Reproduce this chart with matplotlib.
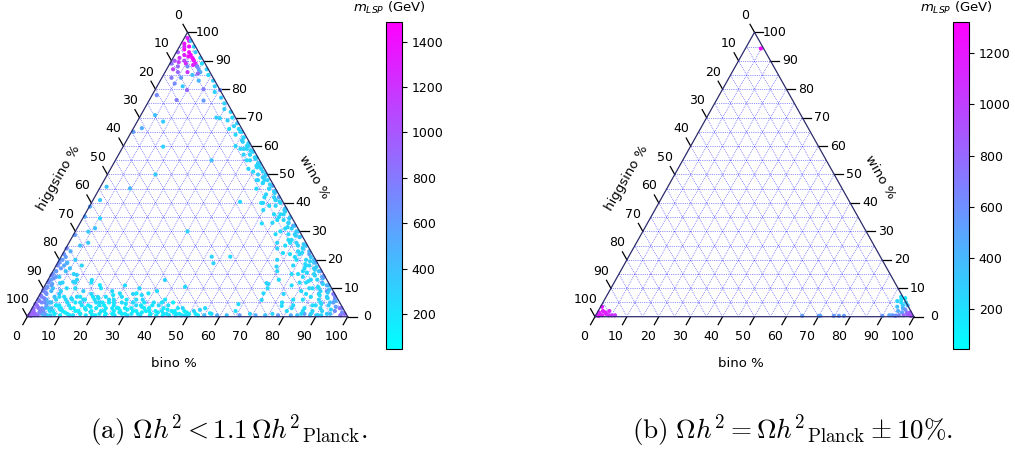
import numpy as np
import matplotlib.pyplot as plt
from matplotlib.colors import Normalize

# ---- panel (a): Omega h^2 < 1.1 Omega h^2 Planck ----
# top corner cluster (wino-like)
top_bino = [1, 2, 1, 3, 2, 4, 5, 3, 6, 2, 7, 4, 1, 8, 5, 3, 9, 6, 2, 10, 7, 4, 11,
            0.5, 0.5, 3, 6, 9, 12, 5, 8, 1.5, 4.5, 7.5, 2.5, 6.5, 10.5]
top_wino = [98, 97, 96, 95, 94, 93, 92, 92, 91, 91, 90, 90, 90, 89, 89, 88, 88, 88, 87, 87,
            86, 86, 86, 93, 89, 84, 84, 85, 83, 82, 81, 95, 91.5, 88.5, 89.5, 90.5, 85.5]
top_mass = [1300, 1350, 1400, 1420, 1450, 1380, 1440, 1300, 1400, 1200, 1350, 1100, 1000,
            1300, 1250, 900, 1000, 700, 1100, 600, 1200, 900, 500, 950, 850, 800, 600, 400,
            450, 700, 350, 1250, 1400, 1300, 1150, 1420, 900]

# right edge band (little higgsino): wino and higgsino
right_wino = [97, 95, 93, 91, 89, 87, 85, 83, 81, 79, 77, 88, 80, 76, 70,
              75, 73, 72, 70, 69, 68, 67, 66, 65, 64, 63, 62, 61, 60, 59, 58, 57, 56, 55, 54,
              53, 52, 51, 50, 49, 48, 47, 46, 45, 44, 43, 42, 41, 40, 39, 38,
              66, 60, 55, 52, 48, 45, 42, 40, 57, 50,
              37, 36, 35, 34, 33, 32, 31, 30, 30, 29, 28, 27, 26, 25, 25, 24, 23, 22, 21, 20,
              20, 36, 33, 29, 26, 22, 24,
              19, 18, 18, 17, 16, 16, 15, 15, 14, 14, 13, 12, 12, 11, 11, 10, 10, 9, 9, 8, 8,
              7, 7, 6, 6, 5, 5, 4, 4, 3, 3, 3, 2, 2, 1, 1, 1, 0.5, 0.5, 13, 8, 5, 16, 10, 20,
              48, 32.8, 37.5, 59, 2, 1, 4, 0.5, 6, 3]
right_higg = [0.5, 0.5, 1, 0.5, 1, 0.5, 1, 0.5, 1, 2, 1, 3, 5, 7, 6,
              1, 2, 0.5, 1, 3, 0.5, 2, 1, 0.5, 3, 1, 2, 0.5, 1.5, 4, 0.5, 2, 1, 3, 0.5,
              2, 1, 4, 0.5, 2, 1, 3, 0.5, 2, 1, 4, 0.5, 2, 1, 5, 0.5,
              4, 5, 4, 5, 4, 6, 5, 7, 4, 3,
              1, 3, 0.5, 5, 2, 1, 4, 0.5, 6, 2, 1, 5, 3, 0.5, 7, 2, 4, 1, 6, 3,
              0.5, 5, 7, 8, 9, 7, 10,
              1, 4, 8, 2, 6, 0.5, 3, 10, 1, 7, 5, 2, 9, 0.5, 12, 4, 7, 2, 10, 5, 0.5,
              8, 3, 1, 11, 6, 2, 9, 4, 1, 7, 12, 3, 10, 0.5, 6, 14, 2, 9, 15, 16, 18, 14, 20, 12,
              4.4, 10.4, 7.6, 3, 13, 11, 15, 8, 14, 16]
right_mass = [400, 300, 350, 300, 250, 300, 250, 350, 300, 300, 350, 700, 800, 600, 350,
              300, 350, 300, 250, 300, 350, 300, 280, 300, 250, 300, 350, 300, 250, 280, 300,
              250, 300, 300, 250, 280, 300, 250, 300, 350, 300, 280, 500, 300, 250, 300, 600,
              250, 300, 250, 300,
              250, 300, 250, 280, 300, 250, 280, 250, 300, 350,
              300, 250, 350, 250, 300, 600, 250, 300, 250, 300, 500, 250, 300, 350, 250, 300,
              280, 600, 250, 300, 400, 250, 280, 250, 300, 250, 300,
              300, 250, 280, 350, 250, 700, 300, 250, 500, 280, 300, 600, 250, 300, 250, 280,
              300, 700, 250, 300, 800, 280, 350, 750, 250, 300, 600, 250, 350, 900, 300, 250,
              700, 280, 900, 350, 250, 800, 300, 250, 300, 250, 280, 250, 300,
              300, 250, 280, 300, 250, 300, 250, 280, 250, 300]

# extra points filling the dense right band
rband_wino = [0.5, 1.5, 2.5, 3.5, 4.5, 5.5, 6.5, 7.5, 8.5, 9.5, 10.5, 11.5, 12.5, 13.5, 14.5,
              15.5, 16.5, 17.5, 18.5, 19.5, 21, 22.5, 24, 25.5, 27, 28.5, 30, 31.5, 33, 34.5,
              36, 37.5, 39, 40.5, 42, 43.5, 45, 46.5, 48, 49.5, 51, 52.5, 54, 55.5, 57, 58.5,
              60, 61.5, 63, 65,
              1, 2, 3, 4, 5, 6, 7, 8, 9, 10, 11, 12, 13, 14, 15, 16, 17, 18, 19, 20, 22, 23,
              25, 26, 28, 29, 31, 32, 34, 35, 38, 41, 44, 47, 50, 53, 56, 59]
rband_higg = [2, 1, 4, 2, 6, 1, 3, 5, 2, 1, 4, 2, 6, 1, 3, 5, 2, 1, 4, 2, 1, 3, 2, 1, 4, 2,
              1, 3, 2, 1, 2, 1, 3, 1, 2, 1, 2, 1, 2, 1, 1, 2, 1, 1, 2, 1, 1, 2, 1, 1,
              5, 7, 0.5, 8, 3, 6, 0.5, 9, 4, 6, 1, 7, 3, 0.5, 8, 1, 5, 3, 0.5, 6, 4, 0.5, 3,
              5, 1, 4, 2, 0.5, 3, 4, 0.5, 2, 0.5, 3, 0.5, 1, 0.5, 2]
rband_mass = [850, 700, 300, 600, 250, 500, 300, 250, 350, 400, 250, 300, 250, 450, 300,
              250, 300, 350, 250, 300, 350, 280, 300, 350, 250, 300, 350, 280, 300, 350, 300,
              350, 280, 300, 300, 350, 300, 320, 280, 350, 300, 280, 320, 300, 280, 300, 320,
              300, 280, 300,
              400, 300, 800, 250, 400, 300, 700, 250, 300, 250, 500, 250, 300, 600, 250, 400,
              250, 300, 500, 250, 280, 450, 300, 250, 350, 280, 300, 400, 280, 250, 350, 300,
              350, 280, 320, 300, 300, 280]

# left edge band (little bino)
left_bino = [0.5, 1, 0.5, 2, 1, 2, 0.5, 1, 3, 2, 0.5, 1, 3, 2, 0.5, 1, 3, 2, 0.5, 1, 3, 2,
             0.5, 4, 1, 3, 0.5, 2, 5, 6, 7, 5, 4, 8, 6, 9,
             1, 3, 4, 5, 6, 7, 1, 3, 2, 4, 5, 3, 6,
             0.3, 1, 0.5, 1.5, 0.3, 1, 2, 0.5, 1.5, 0.3, 1, 2, 0.5, 1.5, 0.3, 1, 2.5, 0.5,
             1.5, 0.3, 4, 5, 3]
left_wino = [1, 2, 3, 1, 4, 5, 6, 7, 3, 8, 9, 10, 6, 11, 12, 13, 10, 14, 15, 16, 14, 17,
             18, 16, 20, 19, 22, 23, 12, 8, 15, 20, 25, 18, 26, 12,
             0.3, 0.5, 2, 1, 3, 0.5, 1, 2, 3, 4, 5, 5, 6,
             0.5, 1.5, 2.5, 3.5, 4.5, 5.5, 6.5, 7.5, 8.5, 9.5, 10.5, 11.5, 12.5, 13.5, 14.5,
             16, 18, 19, 21, 24, 5, 7, 9]
left_mass = [950, 900, 850, 900, 800, 700, 750, 650, 700, 600, 700, 650, 500, 600, 700, 550,
             400, 600, 650, 700, 350, 600, 700, 400, 600, 350, 650, 500, 300, 350, 300, 350,
             400, 300, 350, 300,
             950, 850, 700, 600, 400, 300, 850, 750, 800, 600, 400, 700, 300,
             1000, 950, 900, 850, 900, 800, 750, 800, 700, 750, 650, 600, 700, 650, 700, 600,
             550, 650, 600, 700, 500, 400, 450]

# bottom edge band (little wino)
bottom_bino = [2, 4, 5, 6, 7, 8, 8, 9, 10, 10, 11, 12, 12, 13, 14, 14, 15, 16, 16, 17, 18, 18,
               19, 20, 20, 21, 22, 22, 23, 24, 24, 25, 26, 27, 27, 28, 29, 29, 30, 31, 32, 32,
               33, 34, 35, 35, 36, 37, 38, 39, 40, 41, 42, 43, 44, 45, 46, 47, 48, 49, 50, 51,
               52, 53, 54, 55,
               57, 59, 62, 64, 66, 69, 71, 74, 76, 78, 80, 82, 84, 86, 88, 90,
               6, 10, 13, 18, 22, 25, 30, 9, 14,
               7, 8, 9, 11, 13, 15, 17, 19, 21, 23, 26, 28, 31, 34, 37, 40, 42,
               17.1, 13.7, 23, 24.8, 30, 31.9, 33.7, 36.5, 44, 8.2, 8.1, 4.8, 4.3, 7.3, 19,
               63.7, 70.2, 77.5, 52.7, 56.4]
bottom_wino = [0.5, 1, 3, 0.5, 2, 4, 1, 6, 2, 0.5, 4, 1, 7, 3, 0.5, 5, 2, 8, 1, 4, 0.5, 6,
               2, 3, 0.5, 7, 1, 4, 2, 0.5, 6, 3, 1, 5, 0.5, 2, 8, 3, 1, 0.5, 4, 2,
               6, 1, 3, 0.5, 9, 2, 1, 4, 0.5, 2, 1, 5, 0.5, 2, 1, 3, 0.5, 1.5, 0.5, 2,
               1, 0.5, 3, 0.5,
               1, 0.5, 0.5, 2, 0.5, 1, 0.5, 0.5, 1, 0.5, 2, 0.5, 0.5, 1, 0.5, 0.5,
               9, 10, 9, 10, 9, 11, 10, 13, 12,
               4, 7, 3, 6, 7, 6, 7, 5, 5, 5, 7, 6, 6, 5, 5, 6, 4,
               11.1, 12.9, 7.6, 8.2, 8.2, 7.6, 8.2, 12.9, 10.5, 12.3, 14.7, 17, 11.8, 10, 6.5,
               4.4, 5.9, 3.8, 2.4, 1.2]
bottom_mass = [900, 600, 300, 250, 200, 250, 150, 300, 200, 150, 250, 200, 300, 150, 200, 250,
               150, 300, 200, 150, 200, 250, 150, 200, 150, 250, 200, 150, 200, 150, 250, 200,
               150, 250, 200, 150, 300, 200, 150, 200, 250, 150, 300, 200, 150, 200, 250, 150,
               200, 300, 150, 200, 250, 150, 200, 150, 200, 300, 250, 150, 200, 300, 200, 150,
               250, 400,
               300, 500, 400, 250, 600, 300, 500, 400, 300, 600, 250, 500, 400, 600, 500, 350,
               300, 250, 350, 250, 300, 250, 300, 300, 250,
               250, 250, 200, 250, 200, 250, 200, 250, 200, 200, 250, 200, 250, 200, 250, 200,
               250,
               200, 250, 200, 250, 200, 250, 200, 300, 250, 300, 350, 400, 300, 250, 200,
               250, 300, 250, 300, 200]

# extra points filling the dense bottom band
bband_bino = [3, 4, 5, 6, 7, 8, 9, 10, 11, 12, 13, 14, 15, 16, 17, 18, 19, 20, 21, 22, 23, 24,
              25, 26, 27, 28, 29, 30, 31, 32, 33, 34, 35, 36, 37, 38, 39, 40, 41, 42, 43, 44,
              45, 46, 47, 48, 49, 50,
              2.5, 4.5, 6.5, 8.5, 10.5, 12.5, 14.5, 16.5, 18.5, 20.5, 22.5, 24.5, 26.5, 28.5,
              30.5, 33.5, 36.5, 39.5, 42.5, 45.5]
bband_wino = [1.5, 3, 0.5, 2, 4, 1, 2.5, 5, 1.5, 3, 0.5, 2, 4, 1, 2.5, 3.5, 1.5, 5, 0.5, 2, 3,
              1, 4, 2, 3, 1.5, 1, 2.5, 3, 1, 2, 3.5, 1.5, 2, 4, 0.5, 2, 1.5, 3, 0.5, 1, 2,
              1.5, 0.5, 1, 2, 0.5, 1,
              6, 5, 7, 3, 6.5, 5, 6, 3, 7, 4, 6, 5, 3, 4.5, 5, 4, 3, 5, 2.5, 3]
bband_mass = [700, 500, 300, 250, 200, 180, 200, 250, 150, 200, 180, 150, 200, 180, 150, 200,
              180, 250, 150, 200, 180, 150, 200, 180, 150, 200, 180, 150, 200, 180, 150, 200,
              180, 150, 200, 180, 150, 200, 180, 150, 200, 180, 150, 200, 180, 150, 200, 180,
              600, 300, 250, 200, 250, 200, 250, 200, 250, 200, 250, 200, 180, 200, 250, 200,
              180, 200, 180, 200]

# scattered interior points
mid_bino = [1.45, 4.4, 8.1, 2.6, 0.6, 12.5, 9.5, 1.9, 2.2, 0.2, 5.4, 5.6, 4.1, 0.4, 0.5,
            47, 52.8, 48.7, 68.8, 69, 68.6, 53.6, 46.2, 8.5, 10, 25.2, 20.3, 0.25, 2.9,
            69.5, 69.6, 30, 15, 35]
mid_wino = [77.9, 70.9, 68.6, 66.3, 65, 59.8, 45.1, 45.7, 41, 38.7, 34.6, 31.1, 29.9, 35.2,
            28.7, 21.1, 21.1, 18.8, 11.8, 17.6, 22.4, 40, 40.4, 76.2, 79.7, 69.8, 79.7, 19.9,
            18.8, 11.5, 8.2, 55, 50, 30]
mid_mass = [700, 400, 350, 500, 600, 300, 450, 400, 350, 500, 300, 400, 350, 500, 600,
            300, 250, 300, 250, 300, 250, 300, 250, 800, 900, 300, 700, 600, 500,
            300, 250, 400, 350, 300]

# ---- panel (b): Omega h^2 = Omega h^2 Planck +- 10% ----
b_bino = [4.85, 0.45,
          0.5, 1, 2, 3, 1.5, 4, 2.5, 5, 0.5, 3.5, 6, 1,
          64.8, 70, 70.5, 74.7, 76.3, 77.9, 89.9,
          92.5, 93, 93.5, 94, 92, 94.5, 93, 95, 94, 96, 95.5, 97, 97.5, 98.5, 99, 96.5, 93,
          94, 95, 92, 98, 96, 95]
b_wino = [94.3, 3.5,
          0.5, 1, 0.5, 1, 2, 0.5, 1.5, 0.5, 1.5, 2, 0.5, 0.3,
          0.3, 0.3, 0.3, 0.3, 0.3, 0.3, 0.3,
          7, 6, 5, 6.5, 5.5, 4, 3.5, 3, 2, 2.5, 1.5, 1.5, 0.8, 0.5, 0.3, 0.5, 0.5,
          0.3, 0.5, 0.5, 1.5, 4, 5]
b_mass = [1300, 1200,
          1150, 1100, 1180, 1120, 1150, 1100, 1170, 1080, 1160, 1120, 1050, 1180,
          520, 550, 500, 560, 540, 520, 560,
          200, 180, 220, 160, 250, 300, 350, 400, 450, 600, 500, 700, 850, 900, 950, 800, 550,
          600, 650, 500, 850, 350, 250]

SQ3 = np.sqrt(3) / 2


def to_xy(bino, wino):
    bino = np.asarray(bino, float)
    wino = np.asarray(wino, float)
    return bino + wino / 2, wino * SQ3


def draw_ternary(ax):
    # grid every 5 %
    for i in range(5, 100, 5):
        for (b0, w0), (b1, w1) in [((0, i), (100 - i, i)),
                                   ((i, 0), (i, 100 - i)),
                                   ((100 - i, 0), (0, 100 - i))]:
            x, y = to_xy([b0, b1], [w0, w1])
            ax.plot(x, y, color="blue", lw=0.5, ls=":", alpha=0.8, zorder=1)
    x, y = to_xy([0, 100, 0, 0], [0, 0, 100, 0])
    ax.plot(x, y, color="#2b2b6b", lw=0.9, zorder=4, clip_on=False)

    tl = 2.8
    for v in range(0, 101, 10):
        # bino (bottom)
        x, y = to_xy(v, 0)
        ax.plot([x, x - 0.5 * tl], [y, y - SQ3 * tl], color="k", lw=0.9, clip_on=False)
        ax.text(x - 0.5 * 7.0, y - SQ3 * 7.0, str(v), ha="center", va="center", fontsize=9)
        # wino (right)
        x, y = to_xy(100 - v, v)
        ax.plot([x, x + tl], [y, y], color="k", lw=0.9, clip_on=False)
        ax.text(x + 6.2, y, str(v), ha="center", va="center", fontsize=9)
        # higgsino (left)
        x, y = to_xy(0, 100 - v)
        ax.plot([x, x - 0.5 * tl], [y, y + SQ3 * tl], color="k", lw=0.9, clip_on=False)
        ax.text(x - 0.5 * 6.0, y + SQ3 * 6.0, str(v), ha="center", va="center", fontsize=9)

    ax.text(45.7, -14.4, "bino %", ha="center", va="center", fontsize=9.5)
    ax.text(9.9, 42.2, "higgsino %", ha="center", va="center", fontsize=9.5, rotation=60)
    ax.text(89.5, 42.4, "wino %", ha="center", va="center", fontsize=9.5, rotation=-60)
    ax.set_xlim(-8, 112)
    ax.set_ylim(-18, 92)
    ax.axis("off")


W, H = 1015, 450
fig = plt.figure(figsize=(W / 100, H / 100), dpi=100)
plt.rcParams["mathtext.fontset"] = "dejavusans"


def px_axes(x0, sx, y0, sy):
    left = (x0 - 8 * sx) / W
    width = 120 * sx / W
    bottom = (H - (y0 + 18 * sy)) / H
    height = 110 * sy / H
    return fig.add_axes([left, bottom, width, height])


cmap = plt.get_cmap("cool")

# panel (a)
ax_a = px_axes(27.3, 3.204, 316.7, 3.284)
draw_ternary(ax_a)
norm_a = Normalize(46, 1488)
rw = right_wino + rband_wino
rh = right_higg + rband_higg
bino_a = (bottom_bino + bband_bino + left_bino + mid_bino + top_bino
          + list(100 - np.array(rw) - np.array(rh)))
wino_a = bottom_wino + bband_wino + left_wino + mid_wino + top_wino + rw
mass_a = bottom_mass + bband_mass + left_mass + mid_mass + top_mass + right_mass + rband_mass
x, y = to_xy(bino_a, wino_a)
sc_a = ax_a.scatter(x, y, c=mass_a, cmap=cmap, norm=norm_a, s=9, lw=0, zorder=3)

cax_a = fig.add_axes([386 / W, 1 - 349 / H, 16 / W, (349 - 21.7) / H])
cb_a = fig.colorbar(sc_a, cax=cax_a)
cb_a.set_ticks([200, 400, 600, 800, 1000, 1200, 1400])
cb_a.ax.tick_params(labelsize=9)
fig.text(389 / W, 1 - 8 / H, r"$m_{LSP}$ (GeV)", ha="center", va="center", fontsize=9.5)

# panel (b)
ax_b = px_axes(595, 3.19, 316.7, 3.284)
draw_ternary(ax_b)
norm_b = Normalize(45, 1323)
x, y = to_xy(b_bino, b_wino)
sc_b = ax_b.scatter(x, y, c=b_mass, cmap=cmap, norm=norm_b, s=9, lw=0, zorder=3)

cax_b = fig.add_axes([953 / W, 1 - 349 / H, 16 / W, (349 - 21.7) / H])
cb_b = fig.colorbar(sc_b, cax=cax_b)
cb_b.set_ticks([200, 400, 600, 800, 1000, 1200])
cb_b.ax.tick_params(labelsize=9)
fig.text(956 / W, 1 - 8 / H, r"$m_{LSP}$ (GeV)", ha="center", va="center", fontsize=9.5)

# captions
cap = dict(ha="center", va="center", fontsize=19.5, math_fontfamily="cm")
fig.text(229 / W, 1 - 431 / H,
         r"$\mathrm{(a)}\ \Omega h^2 < 1.1\,\Omega h^2{}_{\mathrm{Planck}}.$", **cap)
fig.text(793 / W, 1 - 431 / H,
         r"$\mathrm{(b)}\ \Omega h^2 = \Omega h^2{}_{\mathrm{Planck}} \pm 10\%.$", **cap)

fig.savefig("out.png", dpi=100)
